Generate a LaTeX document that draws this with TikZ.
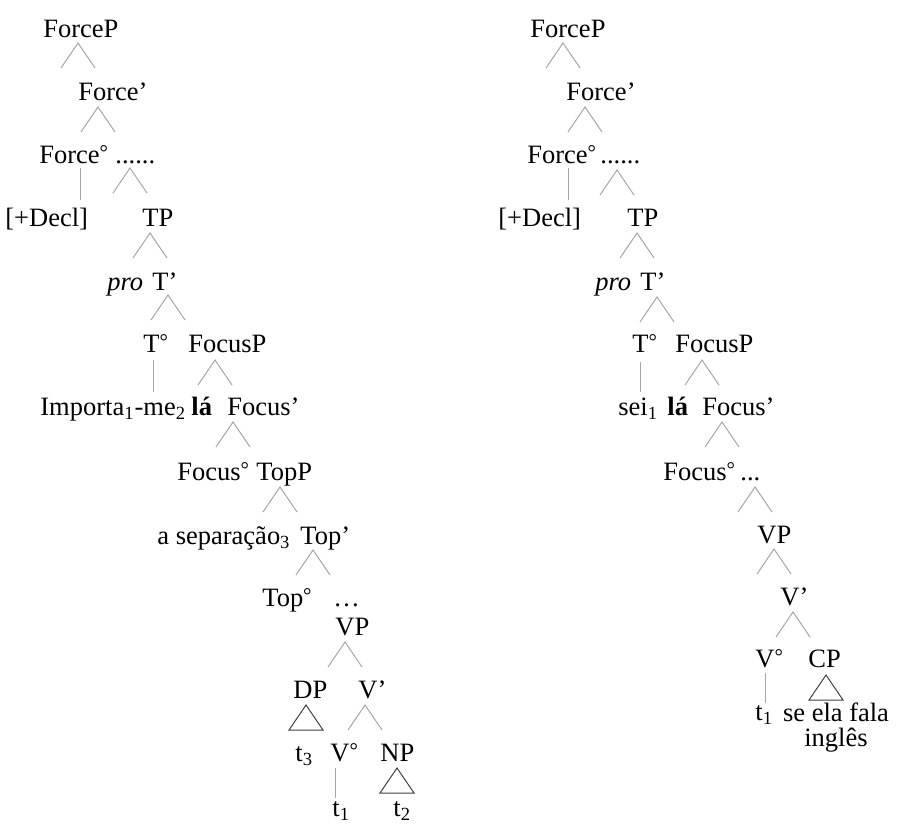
\documentclass[tikz,border=0pt]{standalone}
\usepackage{fontspec}
\setmainfont{Liberation Serif}
\usepackage{tikz}
\newcommand{\hd}{\raisebox{0.12em}{\fontsize{10.5}{10.5}\selectfont °}}

\begin{document}
\begin{tikzpicture}[
  x=0.5pt, y=-0.5pt,
  lab/.style={anchor=base west, inner sep=0pt, font=\fontsize{13.25}{15}\selectfont},
  br/.style={draw=gray!70, line width=0.5pt},
  tri/.style={draw=black!75, line width=0.5pt},
  caret/.pic={\draw[br] (-17,25) -- (0,0) -- (17,25);},
  delta/.pic={\draw[tri] (-17,25) -- (0,0) -- (17,25) -- cycle;}
]
  \useasboundingbox (0,0) rectangle (898,825);

  % left tree: Importa-me la a separacao
  \node[lab] (fpL) at (43,37) {ForceP};
  \node[lab] (fbL) at (78,100) {Force'};
  \node[lab] (f0L) at (39,163) {Force\hd};
  \node[lab] (dotsL) at (115,163) {......};
  \node[lab] (declL) at (5,226) {[+Decl]};
  \node[lab] (tpL) at (142,226) {TP};
  \node[lab] (proL) at (107,290) {\textit{pro}};
  \node[lab] (tbL) at (152,290) {T'};
  \node[lab] (t0L) at (143,352) {T\hd};
  \node[lab] (focpL) at (188,352) {FocusP};
  \node[lab] (impL) at (40,415) {Importa\textsubscript{1}-me\textsubscript{2}};
  \node[lab] (laL) at (191,415) {\textbf{lá}};
  \node[lab] (focbL) at (227,415) {Focus'};
  \node[lab] (foc0L) at (177,480) {Focus\hd};
  \node[lab] (toppL) at (256,480) {TopP};
  \node[lab] (sepL) at (157,544) {a separação\textsubscript{3}};
  \node[lab] (topbL) at (300,544) {Top'};
  \node[lab] (top0L) at (262,606) {Top\hd};
  \node[lab] (ellL) at (333,606) {…};
  \node[lab] (vpL) at (335,635) {VP};
  \node[lab] (dpL) at (293,698) {DP};
  \node[lab] (vbL) at (358,698) {V'};
  \node[lab] (t3L) at (295,761) {t\textsubscript{3}};
  \node[lab] (v0L) at (330,761) {V\hd};
  \node[lab] (npL) at (380,761) {NP};
  \node[lab] (t1L) at (332,816) {t\textsubscript{1}};
  \node[lab] (t2L) at (393,816) {t\textsubscript{2}};

  \path (fpL.base west) ++(35,6) pic {caret};
  \path (fbL.base west) ++(20,7) pic {caret};
  \path (dotsL.base west) ++(15,5) pic {caret};
  \path (tpL.base west) ++(8,7) pic {caret};
  \path (tbL.base west) ++(16,5) pic {caret};
  \path (focpL.base west) ++(27,8) pic {caret};
  \path (focbL.base west) ++(6,7) pic {caret};
  \path (toppL.base west) ++(24,7) pic {caret};
  \path (topbL.base west) ++(13,6) pic {caret};
  \path (vpL.base west) ++(10,7) pic {caret};
  \path (vbL.base west) ++(7,7) pic {caret};
  \path (dpL.base west) ++(13,7) pic {delta};
  \path (npL.base west) ++(17,7) pic {delta};
  \draw[br] (f0L.base west) ++(41,5) -- ++(0,32);
  \draw[br] (t0L.base west) ++(10,8) -- ++(0,32);
  \draw[br] (v0L.base west) ++(5,7) -- ++(0,30);

  % right tree: sei la se ela fala ingles
  \node[lab] (fpR) at (530,37) {ForceP};
  \node[lab] (fbR) at (566,100) {Force'};
  \node[lab] (f0R) at (527,163) {Force\hd};
  \node[lab] (dotsR) at (600,163) {......};
  \node[lab] (declR) at (498,226) {[+Decl]};
  \node[lab] (tpR) at (627,226) {TP};
  \node[lab] (proR) at (595,290) {\textit{pro}};
  \node[lab] (tbR) at (640,290) {T'};
  \node[lab] (t0R) at (632,352) {T\hd};
  \node[lab] (focpR) at (675,352) {FocusP};
  \node[lab] (seiR) at (618,415) {sei\textsubscript{1}};
  \node[lab] (laR) at (667,415) {\textbf{lá}};
  \node[lab] (focbR) at (702,415) {Focus'};
  \node[lab] (foc0R) at (663,480) {Focus\hd};
  \node[lab] (ellR) at (740,480) {...};
  \node[lab] (vpR) at (757,543) {VP};
  \node[lab] (vbR) at (780,605) {V'};
  \node[lab] (v0R) at (755,667) {V\hd};
  \node[lab] (cpR) at (808,667) {CP};
  \node[lab] (t1R) at (755,720) {t\textsubscript{1}};
  \node[lab, anchor=north, align=center, font=\fontsize{13.25}{12.5}\selectfont]
    (clauseR) at (836,702) {se ela fala\\inglês};

  \path (fpR.base west) ++(33,6) pic {caret};
  \path (fbR.base west) ++(19,7) pic {caret};
  \path (dotsR.base west) ++(17,7) pic {caret};
  \path (tpR.base west) ++(10,7) pic {caret};
  \path (tbR.base west) ++(17,7) pic {caret};
  \path (focpR.base west) ++(27,8) pic {caret};
  \path (focbR.base west) ++(20,7) pic {caret};
  \path (ellR.base west) ++(15,7) pic {caret};
  \path (vpR.base west) ++(17,6) pic {caret};
  \path (vbR.base west) ++(13,7) pic {caret};
  \path (cpR.base west) ++(18,8) pic {delta};
  \draw[br] (f0R.base west) ++(41,5) -- ++(0,32);
  \draw[br] (t0R.base west) ++(8,10) -- ++(0,30);
  \draw[br] (v0R.base west) ++(10,6) -- ++(0,30);
\end{tikzpicture}
\end{document}
